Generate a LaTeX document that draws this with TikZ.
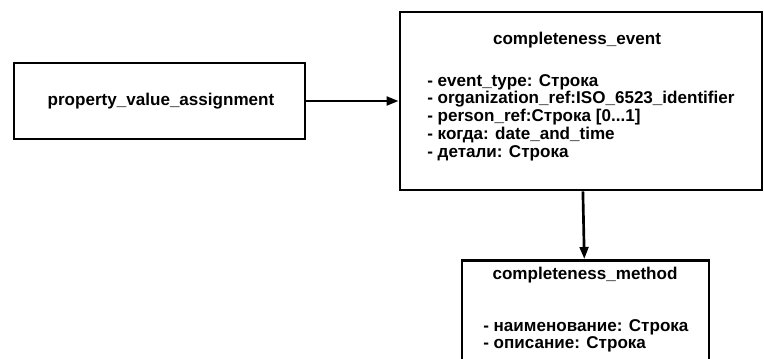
\documentclass[tikz,border=0pt]{standalone}
\usepackage{fontspec}
\setmainfont{Liberation Sans}
\usetikzlibrary{arrows.meta}

\begin{document}
\begin{tikzpicture}[x=0.75pt, y=-0.75pt,
		box/.style={draw, rectangle, line width=2pt, inner sep=0pt},
		txt/.style={font=\bfseries\fontsize{12.8}{13.3}\selectfont, inner sep=0pt},
		attr/.style={txt, align=left, anchor=north west},
		link/.style={-{Triangle[length=9pt, width=6.5pt]}, line width=2pt}]
	\useasboundingbox (0, 0) rectangle (764, 358);
	% boxes
	\node[box, minimum width=291*0.75pt, minimum height=76*0.75pt] (pva) at (159.5, 101) {};
	\node[box, minimum width=362*0.75pt, minimum height=178*0.75pt] (event) at (581, 101) {};
	\node[box, minimum width=247*0.75pt, minimum height=110*0.75pt, anchor=north] (method) at (585.5, 259) {};
	% texts
	\node[txt] (pvaname) at (161, 101) {property\_value\_assignment};
	\node[txt] (eventname) at (577, 40) {completeness\_event};
	\node[attr] (eventattr) at (427, 74) {- event\_type: Строка\\
		- organization\_ref:ISO\_6523\_identifier\\
		- person\_ref:Строка [0...1]\\
		- когда: date\_and\_time\\
		- детали: Строка};
	\node[txt] (methodname) at (585, 275) {completeness\_method};
	\node[attr] (methodattr) at (483, 319) {- наименование: Строка\\
		- описание: Строка};
	% links
	\draw[link] (pva) -- (event);
	\draw[link] (event) -- (method);
\end{tikzpicture}
\end{document}
